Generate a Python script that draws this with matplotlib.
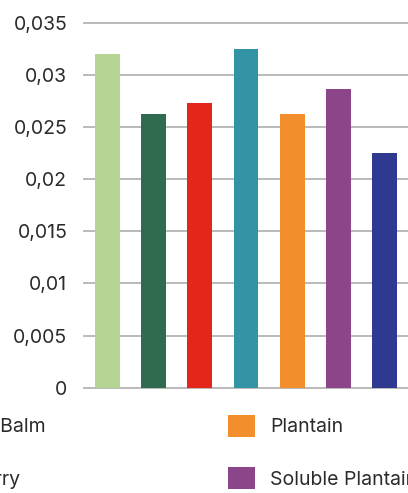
import matplotlib
matplotlib.use("Agg")
import matplotlib.pyplot as plt
from matplotlib.patches import Patch

# Data
categories = ["Peppermint", "Nettle", "Lemon Balm", "Blueberry",
              "Plantain", "Soluble Plantain", "Echinacea"]
values = [0.0320, 0.0262, 0.0273, 0.0325, 0.0262, 0.0286, 0.0225]
colors = ["#b5d491", "#2e6b4f", "#e32619", "#3193a3",
          "#f28e2b", "#8d4589", "#2e3a8f"]
tick_values = [0, 0.005, 0.01, 0.015, 0.02, 0.025, 0.03, 0.035]
tick_labels = ["0", "0,005", "0,01", "0,015", "0,02", "0,025", "0,03", "0,035"]

plt.rcParams["font.family"] = ["Inter", "DejaVu Sans"]

W, H = 408, 493
fig = plt.figure(figsize=(W / 100, H / 100), dpi=100)

# Plot area in pixel coordinates
left, right, top, bottom = 84, 408, 22.7, 387.7
ax = fig.add_axes([left / W, 1 - bottom / H, (right - left) / W, (bottom - top) / H])

x = range(len(values))
ax.bar(x, values, width=0.54, color=colors, zorder=3)

ax.set_xlim(-0.5, len(values) - 0.5)
ax.set_ylim(0, 0.035)
ax.set_yticks(tick_values)
ax.set_yticklabels(tick_labels, fontsize=14, color="#2b2b2b")
ax.set_xticks([])
ax.tick_params(axis="y", length=0, pad=12)

# Grid and frame
ax.grid(axis="y", color="#b4b4b4", linewidth=1.3, zorder=0)
for gl in ax.get_ygridlines():
    gl.set_clip_on(False)
for s in ax.spines.values():
    s.set_visible(False)

# Legend below, partly outside the canvas (as in the cropped reference)
handles = [Patch(facecolor=c) for c in colors]
leg = fig.legend(handles, categories, loc="upper left", ncol=4,
                 bbox_to_anchor=(0, 0), bbox_transform=fig.transFigure,
                 frameon=False, fontsize=14, borderpad=0, borderaxespad=0,
                 handlelength=1.4, handleheight=1.35, handletextpad=0.75,
                 labelspacing=1.56, columnspacing=9.4)
for t in leg.get_texts():
    t.set_color("#2b2b2b")

# Shift the legend so the "Plantain" key sits where it does in the reference
fig.canvas.draw()
ext = leg.legend_handles[4].get_window_extent()
dx = 228 - ext.x0
dy = (H - 415) - ext.y1
leg.set_bbox_to_anchor((dx / W, dy / H), transform=fig.transFigure)

fig.savefig("out.png", dpi=100)
